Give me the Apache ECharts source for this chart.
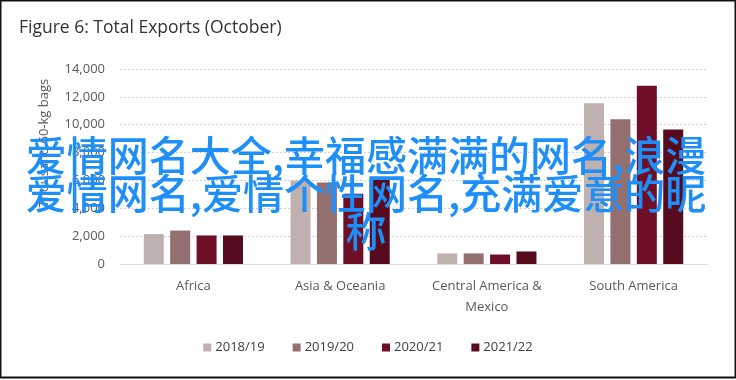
<!DOCTYPE html>
<html>
<head>
<meta charset="utf-8">
<script src="https://cdn.jsdelivr.net/npm/echarts@6/dist/echarts.min.js"></script>
<style>
html,body{margin:0;padding:0;background:#fff;}
#c{width:736px;height:380px;}
</style>
</head>
<body>
<div id="c"></div>
<script>
const titleText = 'Figure 6: Total Exports (October)';
const yAxisTitle = 'Thousand 60-kg bags';
const categories = ['Africa', 'Asia & Oceania', 'Central America &\nMexico', 'South America'];
const seriesNames = ['2018/19', '2019/20', '2020/21', '2021/22'];
const s2018 = [2150, 6000, 760, 11550];
const s2019 = [2400, 5850, 760, 10400];
const s2020 = [2050, 5050, 680, 12800];
const s2021 = [2050, 6150, 900, 9650];
const yTicks = [0, 2000, 4000, 6000, 8000, 10000, 12000, 14000];
const overlayText = '爱情网名大全,幸福感满满的网名,浪漫\n爱情网名,爱情个性网名,充满爱意的昵\n称';

const colors = ['#c0b1b1', '#946f70', '#6f0f27', '#570b1e'];
const allSeries = [s2018, s2019, s2020, s2021];

const chart = echarts.init(document.getElementById('c'), null, {renderer: 'canvas'});
const font = '"Open Sans", Lato, sans-serif';

chart.setOption({
  animation: false,
  color: colors,
  title: {
    text: titleText,
    left: 14, top: 14,
    textStyle: {fontFamily: font, fontSize: 17.5, fontWeight: 'normal', color: '#333'}
  },
  legend: {
    data: seriesNames,
    bottom: 21,
    left: 'center',
    itemWidth: 8, itemHeight: 8, itemGap: 28,
    icon: 'rect',
    textStyle: {fontFamily: font, fontSize: 13, color: '#404040', padding: [0, 0, 0, -1]}
  },
  grid: {left: 120, right: 29, top: 69, bottom: 116, containLabel: false},
  xAxis: {
    type: 'category',
    data: categories,
    axisLine: {lineStyle: {color: '#d9d9d9', width: 1}},
    axisTick: {show: false},
    axisLabel: {fontFamily: font, fontSize: 13, color: '#595959', margin: 12, lineHeight: 21, interval: 0}
  },
  yAxis: {
    type: 'value',
    min: yTicks[0], max: yTicks[yTicks.length - 1], interval: 2000,
    axisLine: {show: false},
    axisTick: {show: false},
    splitLine: {lineStyle: {color: '#d0d0d0', type: [2, 2], width: 1}},
    axisLabel: {
      fontFamily: font, fontSize: 13, color: '#595959', margin: 15,
      formatter: v => v.toLocaleString('en-US')
    }
  },
  series: allSeries.map((d, i) => ({
    name: seriesNames[i],
    type: 'bar',
    data: d,
    barWidth: 20,
    barGap: '32%',
    itemStyle: {color: colors[i]}
  })),
  graphic: [
    {
      type: 'text',
      x: 44, y: 143,
      rotation: Math.PI / 2,
      style: {
        text: yAxisTitle,
        fontFamily: font, fontSize: 13, fill: '#595959',
        align: 'center', verticalAlign: 'middle'
      }
    },
    {
      type: 'text',
      z: 100,
      x: 366, y: 136,
      style: {
        text: overlayText,
        fontFamily: '"Noto Sans CJK SC", sans-serif',
        fontSize: 41,
        fontWeight: 500,
        lineHeight: 38,
        fill: '#1e8ff8',
        align: 'center',
        verticalAlign: 'top'
      }
    },
    {
      type: 'rect',
      z: 100,
      shape: {x: 0.5, y: 0.5, width: 735, height: 377},
      style: {fill: 'none', stroke: '#111', lineWidth: 2}
    }
  ]
});
</script>
</body>
</html>
